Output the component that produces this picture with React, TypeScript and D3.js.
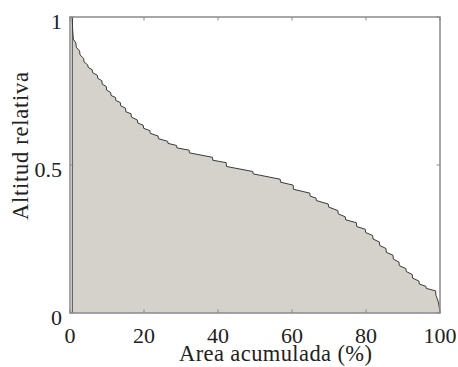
import React from "react";
import * as d3 from "d3";

// Hypsometric curve: accumulated area (%) vs relative altitude
const areaPct = [
  0.6, 0.6, 0.7, 0.9, 1.6, 1.7, 2.6, 2.7, 3.7, 3.8, 4.8, 4.9, 6.0, 6.1, 7.4, 7.5,
  8.6, 8.7, 9.8, 9.9, 11.0, 11.1, 12.3, 12.4, 13.6, 13.7, 15.0, 15.1, 16.5, 16.6,
  18.2, 18.3, 19.8, 19.9, 21.6, 21.7, 23.8, 23.9, 26.4, 26.5, 28.8, 28.9, 32.2,
  32.3, 38.5, 38.6, 42.2, 42.3, 49.4, 49.5, 56.8, 56.9, 60.3, 60.4, 64.8, 64.9,
  66.5, 66.6, 69.8, 69.9, 72.4, 72.5, 74.4, 74.5, 77.4, 77.5, 79.8, 79.9, 81.8,
  81.9, 83.6, 83.7, 85.4, 85.5, 87.3, 87.4, 88.9, 89.0, 90.8, 90.9, 92.5, 92.6,
  94.3, 94.4, 96.2, 96.3, 98.8, 98.9, 99.5, 99.8, 100,
];
const altitude = [
  0, 1.0, 0.96, 0.925, 0.912, 0.898, 0.885, 0.872, 0.86, 0.848, 0.838, 0.83,
  0.822, 0.812, 0.803, 0.793, 0.785, 0.773, 0.765, 0.753, 0.745, 0.735, 0.728,
  0.718, 0.711, 0.7, 0.692, 0.68, 0.673, 0.662, 0.652, 0.642, 0.634, 0.624,
  0.616, 0.607, 0.598, 0.589, 0.58, 0.573, 0.566, 0.558, 0.55, 0.541, 0.526,
  0.516, 0.508, 0.495, 0.478, 0.47, 0.452, 0.442, 0.432, 0.418, 0.405, 0.395,
  0.388, 0.38, 0.368, 0.358, 0.346, 0.335, 0.325, 0.315, 0.305, 0.292, 0.283,
  0.272, 0.262, 0.25, 0.24, 0.228, 0.218, 0.205, 0.195, 0.182, 0.172, 0.16,
  0.15, 0.14, 0.13, 0.118, 0.108, 0.098, 0.09, 0.083, 0.075, 0.06, 0.04, 0.02, 0,
];
const xTicks = [0, 20, 40, 60, 80, 100];
const yTicks = [0, 0.5, 1];
const yTickLabels = ["0", "0.5", "1"];
const xTitle = "Area acumulada (%)";
const yTitle = "Altitud relativa";

const W = 458;
const H = 367;
const textStyle: React.CSSProperties = {
  fontFamily: '"Liberation Serif", "DejaVu Serif", serif',
  fontSize: "22px",
  fill: "#222",
};
const titleStyle: React.CSSProperties = { ...textStyle, fontSize: "22.5px" };

export default function App() {
  const x = d3.scaleLinear().domain([0, 100]).range([70, 440]);
  const y = d3.scaleLinear().domain([0, 1]).range([313, 17]);
  const pts: [number, number][] = areaPct.map((a, i) => [a, altitude[i]]);

  const areaGen = d3
    .area<[number, number]>()
    .x((d) => x(d[0]))
    .y0(y(0))
    .y1((d) => y(d[1]));
  const lineGen = d3
    .line<[number, number]>()
    .x((d) => x(d[0]))
    .y((d) => y(d[1]));

  const [x0, x1] = x.range();
  const [y0, y1] = y.range();
  const tickLen = 3.5;
  const axisColor = "#8a8a8a";

  return (
    <div style={{ position: "fixed", left: 0, top: 0 }}>
      <svg width={W} height={H} style={{ display: "block", background: "#fff" }}>
        <path d={areaGen(pts) ?? ""} fill="#d5d1cb" stroke="none" />
        <path d={lineGen(pts) ?? ""} fill="none" stroke="#3a3a3a" strokeWidth={1} />
        {/* frame */}
        <rect
          x={x0}
          y={y1}
          width={x1 - x0}
          height={y0 - y1}
          fill="none"
          stroke={axisColor}
          strokeWidth={1.5}
        />
        {/* inward ticks on all four sides */}
        {xTicks.map((t) => (
          <g key={"xt" + t} stroke={axisColor} strokeWidth={1}>
            <line x1={x(t)} x2={x(t)} y1={y0} y2={y0 - tickLen} />
            <line x1={x(t)} x2={x(t)} y1={y1} y2={y1 + tickLen} />
          </g>
        ))}
        {yTicks.map((t) => (
          <g key={"yt" + t} stroke={axisColor} strokeWidth={1}>
            <line x1={x0} x2={x0 + tickLen} y1={y(t)} y2={y(t)} />
            <line x1={x1} x2={x1 - tickLen} y1={y(t)} y2={y(t)} />
          </g>
        ))}
        {/* tick labels */}
        {xTicks.map((t) => (
          <text key={"xl" + t} x={x(t)} y={343} textAnchor="middle" style={textStyle}>
            {t}
          </text>
        ))}
        {yTicks.map((t, i) => (
          <text key={"yl" + t} x={62} y={y(t) + 12} textAnchor="end" style={textStyle}>
            {yTickLabels[i]}
          </text>
        ))}
        {/* axis titles */}
        <text x={179} y={361} textLength={193} lengthAdjust="spacing" style={titleStyle}>
          {xTitle}
        </text>
        <text
          transform="translate(28,220) rotate(-90)"
          textLength={148}
          lengthAdjust="spacing"
          style={titleStyle}
        >
          {yTitle}
        </text>
      </svg>
    </div>
  );
}
